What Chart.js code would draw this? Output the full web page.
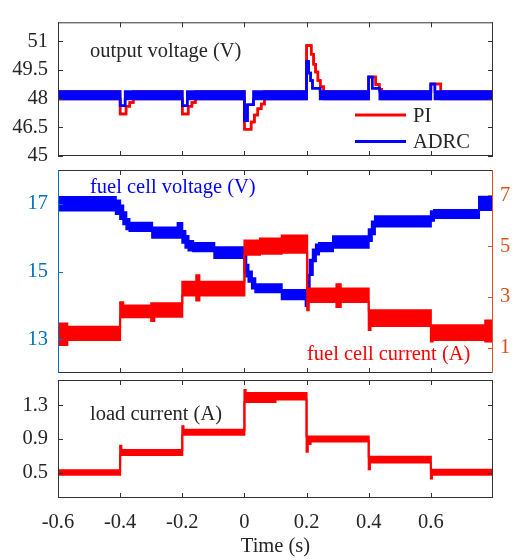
<!DOCTYPE html>
<html><head><meta charset="utf-8">
<script src="https://cdn.jsdelivr.net/npm/chart.js@4.4.1/dist/chart.umd.min.js"></script>
<style>
html,body{margin:0;padding:0;background:#fff;}
#wrap{position:relative;width:517px;height:560px;overflow:hidden;}
#wrap canvas{position:absolute;left:0;top:0;}
</style></head><body>
<div id="wrap">
<canvas id="c1" width="517" height="560"></canvas>
<canvas id="c2" width="517" height="560"></canvas>
<canvas id="c3" width="517" height="560"></canvas>
</div>
<script>
// ---------------- data ----------------
const xTicks = [-0.6, -0.4, -0.2, 0, 0.2, 0.4, 0.6];
const voltTicks = [45, 46.5, 48, 49.5, 51];
const fcVoltTicks = [13, 15, 17];
const fcCurrTicks = [1, 3, 5, 7];
const loadTicks = [0.5, 0.9, 1.3];

// output voltage, PI (envelope low / high of the ripple band)
const piTime = [-0.6, -0.4, -0.381, -0.369, -0.358, -0.2, -0.181, -0.169, -0.158, 0, 0.0215, 0.032, 0.043, 0.054, 0.0645, 0.2, 0.215, 0.2226, 0.229, 0.2365, 0.2442, 0.2548, 0.4, 0.4226, 0.434, 0.442, 0.6, 0.632, 0.8];
const piLow  = [47.98, 47.2, 47.6, 47.8, 47.98, 47.2, 47.6, 47.8, 47.98, 46.4, 46.78, 47.15, 47.47, 47.72, 47.98, 50.78, 50.33, 49.8, 49.4, 48.95, 48.62, 47.98, 49.14, 48.75, 48.5, 47.98, 48.77, 47.98, 47.98];
const piHigh = [48.38, 47.2, 47.6, 47.8, 48.38, 47.2, 47.6, 47.8, 48.38, 46.4, 46.78, 47.15, 47.47, 47.72, 48.38, 50.78, 50.33, 49.8, 49.4, 48.95, 48.62, 48.38, 49.14, 48.75, 48.5, 48.38, 48.77, 48.38, 48.38];

// output voltage, ADRC
const adrcTime = [-0.6, -0.4, -0.384, -0.2, -0.184, 0, 0.0097, 0.029, 0.2, 0.2065, 0.213, 0.219, 0.2435, 0.4, 0.4113, 0.4355, 0.6, 0.613, 0.8];
const adrcLow  = [47.98, 47.63, 47.98, 47.63, 47.98, 46.84, 47.68, 47.98, 49.95, 49.35, 48.95, 48.55, 47.98, 49.14, 48.55, 47.98, 48.77, 47.98, 47.98];
const adrcHigh = [48.38, 47.63, 48.38, 47.63, 48.38, 46.84, 47.68, 48.38, 49.95, 49.35, 48.95, 48.55, 48.38, 49.14, 48.55, 48.38, 48.77, 48.38, 48.38];

// fuel cell voltage (V)
const fcvTime = [-0.6, -0.414, -0.4, -0.39, -0.38, -0.37, -0.297, -0.215, -0.2, -0.19, -0.18, -0.165, -0.097, 0, 0.006, 0.013, 0.024, 0.035, 0.12, 0.197, 0.203, 0.21, 0.22, 0.23, 0.24, 0.285, 0.4, 0.41, 0.42, 0.6, 0.61, 0.755, 0.8];
const fcvLow  = [16.8, 16.7, 16.55, 16.4, 16.25, 16.2, 16.0, 16.0, 15.85, 15.7, 15.62, 15.6, 15.4, 14.95, 14.85, 14.7, 14.5, 14.39, 14.18, 13.98, 14.3, 14.9, 15.3, 15.5, 15.6, 15.7, 15.9, 16.1, 16.33, 16.5, 16.58, 16.82, 16.82];
const fcvHigh = [17.2, 17.1, 16.95, 16.75, 16.55, 16.44, 16.3, 16.43, 16.2, 16.05, 15.9, 15.84, 15.72, 15.5, 15.2, 15.0, 14.8, 14.62, 14.45, 14.45, 14.9, 15.35, 15.65, 15.8, 15.84, 16.04, 16.25, 16.48, 16.63, 16.78, 16.82, 17.21, 17.21];

// fuel cell current (A)
const fciTime = [-0.6, -0.57, -0.4, -0.39, -0.3, -0.29, -0.2, -0.155, -0.145, 0, 0.05, 0.12, 0.202, 0.207, 0.296, 0.31, 0.4, 0.406, 0.6, 0.606, 0.775, 0.8];
const fciLow  = [1.1, 1.3, 2.2, 2.2, 2.05, 2.22, 3.05, 2.86, 3.05, 4.66, 4.7, 4.74, 2.47, 2.8, 2.6, 2.8, 1.69, 1.85, 1.24, 1.3, 1.24, 1.24];
const fciHigh = [1.95, 1.82, 2.79, 2.66, 2.75, 2.75, 3.6, 3.85, 3.6, 5.22, 5.3, 5.42, 3.33, 3.33, 3.5, 3.33, 2.47, 2.47, 1.88, 1.88, 2.07, 2.07];

// load current (A)
const loadTime = [-0.6, -0.4, -0.396, -0.2, -0.196, 0, 0.004, 0.1, 0.2, 0.204, 0.21, 0.213, 0.4, 0.404, 0.6, 0.604, 0.8];
const loadLow  = [0.475, 0.71, 0.71, 0.95, 0.95, 1.34, 1.34, 1.37, 0.75, 0.87, 0.84, 0.87, 0.54, 0.62, 0.43, 0.475, 0.475];
const loadHigh = [0.53, 0.82, 0.77, 1.05, 1.01, 1.48, 1.445, 1.445, 0.93, 0.93, 0.93, 0.93, 0.69, 0.69, 0.535, 0.535, 0.535];

// ---------------- styling ----------------
const FAMILY = '"Liberation Serif", "Times New Roman", serif';
const FSIZE = 20.5;
const FONT = {family: FAMILY, size: FSIZE};
const FONT_STR = FSIZE + 'px ' + FAMILY;
const BOX = '#333333';
const TXT = '#262626';
const RED = '#ff0000';
const BLUE = '#0000ff';
const AX_BLUE = 'rgb(0,114,189)';
const AX_ORANGE = 'rgb(217,83,25)';

const fmt = v => String(+Number(v).toFixed(2));

function band(label, T, lo, hi, color, yAxisID, bw) {
  const hiData = T.map((t, i) => ({x: t, y: hi[i]}));
  const loData = T.map((t, i) => ({x: t, y: lo[i]}));
  const common = {borderColor: color, backgroundColor: color, borderWidth: bw, stepped: true,
                  pointRadius: 0, yAxisID, borderJoinStyle: 'miter', borderCapStyle: 'butt'};
  return [
    Object.assign({label: label, data: hiData, fill: false}, common),
    Object.assign({label: label + ' low', data: loData, fill: '-1'}, common)
  ];
}

function framePlugin(cfg) {
  return {
    id: 'frame' + cfg.name,
    afterDatasetsDraw(chart) {
      const ctx = chart.ctx;
      ctx.save();
      ctx.font = FONT_STR;
      ctx.textBaseline = 'alphabetic';
      ctx.textAlign = 'left';
      (cfg.texts || []).forEach(t => { ctx.fillStyle = t.color; ctx.fillText(t.text, t.x, t.y); });
      (cfg.legend || []).forEach(l => {
        ctx.strokeStyle = l.color; ctx.lineWidth = 3;
        ctx.beginPath(); ctx.moveTo(l.x1, l.ly); ctx.lineTo(l.x2, l.ly); ctx.stroke();
        ctx.fillStyle = TXT; ctx.fillText(l.text, l.tx, l.ty);
      });
      ctx.restore();
    },
    afterDraw(chart) {
      const {ctx, chartArea: a, scales} = chart;
      const L = 5;
      ctx.save();
      ctx.lineWidth = 1;
      const seg = (x1, y1, x2, y2, c) => { ctx.strokeStyle = c; ctx.beginPath(); ctx.moveTo(x1, y1); ctx.lineTo(x2, y2); ctx.stroke(); };
      xTicks.forEach(v => {
        const px = Math.round(scales.x.getPixelForValue(v)) + 0.5;
        seg(px, a.top, px, a.top + L, BOX);
        seg(px, a.bottom, px, a.bottom - L, BOX);
      });
      cfg.leftTicks.forEach(v => {
        const py = Math.round(scales[cfg.leftId].getPixelForValue(v)) + 0.5;
        seg(a.left, py, a.left + L, py, cfg.leftColor);
        if (!cfg.rightTicks) seg(a.right, py, a.right - L, py, cfg.rightColor);
      });
      if (cfg.rightTicks) cfg.rightTicks.forEach(v => {
        const py = Math.round(scales[cfg.rightId].getPixelForValue(v)) + 0.5;
        seg(a.right, py, a.right - L, py, cfg.rightColor);
      });
      seg(a.left, a.top + 0.5, a.right, a.top + 0.5, BOX);
      seg(a.left, a.bottom - 0.5, a.right, a.bottom - 0.5, BOX);
      seg(a.left + 0.5, a.top, a.left + 0.5, a.bottom, cfg.leftColor);
      seg(a.right - 0.5, a.top, a.right - 0.5, a.bottom, cfg.rightColor);
      ctx.restore();
    }
  };
}

function yAxis(min, max, ticks, color, position, width, pad) {
  return {
    type: 'linear', position, min, max,
    afterFit: s => { s.width = width; },
    afterBuildTicks: s => { s.ticks = ticks.map(v => ({value: v})); },
    grid: {display: false, drawTicks: false},
    border: {display: false},
    ticks: {padding: pad, font: FONT, color, callback: v => fmt(v)}
  };
}

function baseOptions(padding) {
  return {
    responsive: false, animation: false, events: [],
    layout: {padding},
    plugins: {legend: {display: false}, tooltip: {enabled: false}},
    elements: {point: {radius: 0}, line: {tension: 0}}
  };
}

const hiddenX = {type: 'linear', min: -0.6, max: 0.8, display: false};

// ---------- chart 1: output voltage ----------
const o1 = baseOptions({top: 5, bottom: 404, left: 0, right: 24});
o1.scales = {x: hiddenX, y: yAxis(45, 52, voltTicks, TXT, 'left', 58, 10)};
new Chart(document.getElementById('c1'), {
  type: 'line',
  data: {datasets: [...band('ADRC', adrcTime, adrcLow, adrcHigh, BLUE, 'y', 2.5),
                    ...band('PI', piTime, piLow, piHigh, RED, 'y', 2.5)]},
  options: o1,
  plugins: [framePlugin({name: 1, leftId: 'y', leftTicks: voltTicks, leftColor: BOX, rightColor: BOX,
    texts: [{text: 'output voltage (V)', x: 90, y: 57, color: TXT}],
    legend: [{text: 'PI', color: RED, x1: 355, x2: 406, ly: 115, tx: 413, ty: 122},
             {text: 'ADRC', color: BLUE, x1: 355, x2: 406, ly: 141.5, tx: 413, ty: 148}]})]
});

// ---------- chart 2: fuel cell voltage / current ----------
const o2 = baseOptions({top: 170, bottom: 187, left: 0, right: 0});
o2.scales = {x: hiddenX,
  yL: yAxis(12, 18, fcVoltTicks, AX_BLUE, 'left', 58, 10),
  yR: yAxis(0, 8, fcCurrTicks, AX_ORANGE, 'right', 24, 7)};
new Chart(document.getElementById('c2'), {
  type: 'line',
  data: {datasets: [...band('fuel cell current', fciTime, fciLow, fciHigh, RED, 'yR', 2),
                    ...band('fuel cell voltage', fcvTime, fcvLow, fcvHigh, BLUE, 'yL', 2)]},
  options: o2,
  plugins: [framePlugin({name: 2, leftId: 'yL', leftTicks: fcVoltTicks, leftColor: AX_BLUE,
    rightId: 'yR', rightTicks: fcCurrTicks, rightColor: AX_ORANGE,
    texts: [{text: 'fuel cell voltage (V)', x: 90, y: 193, color: BLUE},
            {text: 'fuel cell current (A)', x: 307, y: 360, color: RED}]})]
});

// ---------- chart 3: load current ----------
const o3 = baseOptions({top: 380, bottom: 0, left: 0, right: 24});
o3.scales = {
  x: {type: 'linear', min: -0.6, max: 0.8,
      afterFit: s => { s.height = 62; },
      afterBuildTicks: s => { s.ticks = xTicks.map(v => ({value: v})); },
      grid: {display: false, drawTicks: false}, border: {display: false},
      ticks: {padding: 12, font: FONT, color: TXT, maxRotation: 0, autoSkip: false, callback: v => fmt(v)},
      title: {display: true, text: 'Time (s)', font: FONT, color: TXT, padding: {top: 0, bottom: 1}}},
  y: yAxis(0.2, 1.6, loadTicks, TXT, 'left', 58, 10)
};
new Chart(document.getElementById('c3'), {
  type: 'line',
  data: {datasets: [...band('load current', loadTime, loadLow, loadHigh, RED, 'y', 2)]},
  options: o3,
  plugins: [framePlugin({name: 3, leftId: 'y', leftTicks: loadTicks, leftColor: BOX, rightColor: BOX,
    texts: [{text: 'load current (A)', x: 90, y: 420, color: TXT}]})]
});
</script>
</body></html>
